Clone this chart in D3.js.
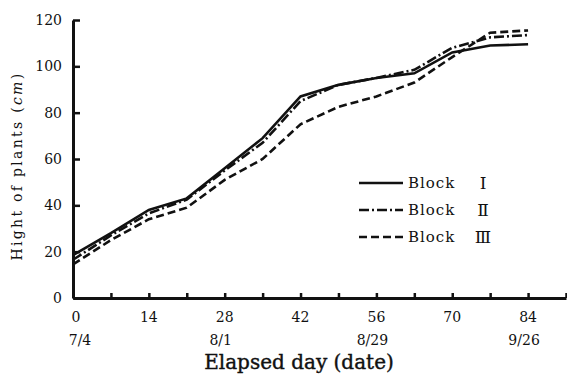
<!DOCTYPE html>
<html>
<head>
<meta charset="utf-8">
<script src="https://cdn.jsdelivr.net/npm/d3@7"></script>
<style>
  body { margin: 0; background: #fff; }
  text { font-family: "DejaVu Serif", "Liberation Serif", serif; fill: #111; }
</style>
</head>
<body>
<div id="chart"></div>
<script>
var days = [0, 7, 14, 21, 28, 35, 42, 49, 56, 63, 70, 77, 84];
var block1 = [18.5, 28, 38, 43, 56, 69, 87, 92, 95, 97, 106, 109, 109.5];
var block2 = [16.5, 27, 36.5, 42.5, 55, 67, 85, 92, 95, 98.5, 108, 112.5, 113.5];
var block3 = [14.5, 25, 34, 39, 51, 60, 75, 82.5, 87, 93, 104, 114.5, 115.5];
var seriesNames = ["Block", "Block", "Block"];
var numerals = ["\u2160", "\u2161", "\u2162"];
var dayLabels = [0, 14, 28, 42, 56, 70, 84];
var dateLabels = {0: "7/4", 28: "8/1", 56: "8/29", 84: "9/26"};
var yTicks = [0, 20, 40, 60, 80, 100, 120];

var width = 567, height = 376;
var dashes = [null, "10,3,2,3", "8,4"];

var svg = d3.select("#chart").append("svg")
    .attr("width", width)
    .attr("height", height);

var x = d3.scaleLinear().domain([0, 91]).range([73, 566]);
var y = d3.scaleLinear().domain([0, 120]).range([298, 20]);

// y axis, ticks point inward
var yAxis = svg.append("g")
    .attr("transform", "translate(" + x(0) + ",0)")
    .call(d3.axisLeft(y).tickValues(yTicks).tickSize(-7).tickPadding(11).tickSizeOuter(0));

// x axis, ticks point up
var xAxis = svg.append("g")
    .attr("transform", "translate(0," + y(0) + ")")
    .call(d3.axisBottom(x).tickValues(d3.range(0, 92, 7)).tickSize(-5).tickSizeOuter(0).tickFormat(""));

[yAxis, xAxis].forEach(function(g) {
    g.select(".domain").attr("stroke", "#111").attr("stroke-width", 3);
    g.selectAll(".tick line").attr("stroke", "#111").attr("stroke-width", 2.5);
});
yAxis.selectAll(".tick text")
    .style("font-family", "DejaVu Serif, serif")
    .style("font-size", "14px")
    .attr("fill", "#111");

var xl = svg.append("g");
xl.selectAll("text.day")
    .data(dayLabels)
    .enter().append("text")
    .attr("class", "day")
    .attr("x", d => x(d) + (d === 0 ? 3 : 0))
    .attr("y", 322)
    .attr("text-anchor", "middle")
    .style("font-size", "14px")
    .text(d => d);
xl.selectAll("text.date")
    .data(Object.keys(dateLabels))
    .enter().append("text")
    .attr("class", "date")
    .attr("x", d => x(+d) + (+d === 0 ? 7 : -4))
    .attr("y", 345)
    .attr("text-anchor", "middle")
    .style("font-size", "14px")
    .text(d => dateLabels[d]);

svg.append("text")
    .attr("x", 299)
    .attr("y", 369)
    .attr("text-anchor", "middle")
    .style("font-size", "20px")
    .attr("stroke", "#111")
    .attr("stroke-width", 0.4)
    .text("Elapsed day (date)");

var yt = svg.append("text")
    .attr("transform", "translate(22,166) rotate(-90)")
    .attr("text-anchor", "middle")
    .style("font-size", "14px")
    .style("letter-spacing", "2.3px");
yt.append("tspan").text("Hight of plants (");
yt.append("tspan").style("font-style", "italic").text("cm");
yt.append("tspan").text(")");

var line = d3.line()
    .x((d, i) => x(days[i]))
    .y(d => y(d));

[block1, block2, block3].forEach(function(s, i) {
    svg.append("path")
        .datum(s)
        .attr("d", line)
        .attr("fill", "none")
        .attr("stroke", "#111")
        .attr("stroke-width", 2.6)
        .attr("stroke-dasharray", dashes[i]);
});

// legend
var legend = svg.append("g");
seriesNames.forEach(function(name, i) {
    var ly = 183 + i * 27;
    legend.append("line")
        .attr("x1", 359).attr("x2", 403)
        .attr("y1", ly).attr("y2", ly)
        .attr("stroke", "#111")
        .attr("stroke-width", 2.6)
        .attr("stroke-dasharray", dashes[i]);
    legend.append("text")
        .attr("x", 408).attr("y", ly + 5)
        .style("font-size", "15px")
        .style("letter-spacing", "1px")
        .text(name);
    legend.append("text")
        .attr("x", 483).attr("y", ly + 6)
        .attr("text-anchor", "middle")
        .style("font-size", "17px")
        .text(numerals[i]);
});
</script>
</body>
</html>
